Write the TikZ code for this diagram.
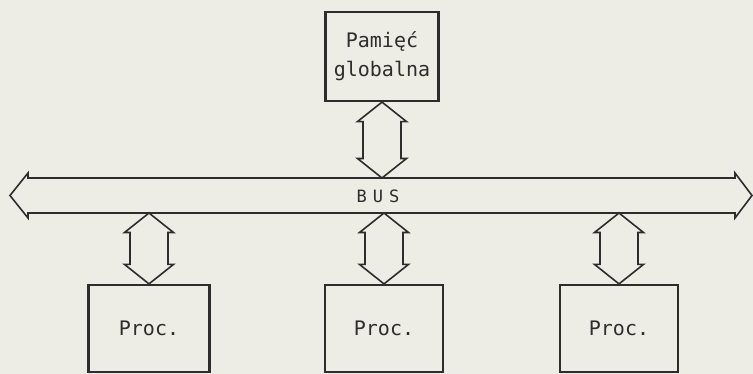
\documentclass[tikz,border=0pt]{standalone}
\usepackage{fontspec}
\setmainfont{DejaVu Sans Mono}
\usetikzlibrary{calc}
\definecolor{paper}{RGB}{237,237,229}
\definecolor{ink}{RGB}{45,45,45}
\tikzset{
  boxnode/.style={draw=ink, line width=2.2pt, minimum width=118pt, inner sep=0pt, font=\fontsize{20}{29}\selectfont, text=ink},
  arrowline/.style={draw=ink, line width=1.6pt, line join=miter},
}
\newcommand\vdarrow[2]{%
  \draw[arrowline] let \p1=(#1), \p2=(#2) in
   (\x1,\y1) -- (\x1+24.5pt,\y1-19.5pt) -- (\x1+19pt,\y1-19.5pt) -- (\x1+19pt,\y2+19.5pt)
   -- (\x1+24.5pt,\y2+19.5pt) -- (\x1,\y2) -- (\x1-24.5pt,\y2+19.5pt) -- (\x1-19pt,\y2+19.5pt)
   -- (\x1-19pt,\y1-19.5pt) -- (\x1-24.5pt,\y1-19.5pt) -- cycle;}
\begin{document}
\begin{tikzpicture}[x=1pt,y=1pt]
  \fill[paper] (0,0) rectangle (753,374);
  \useasboundingbox (0,0) rectangle (753,374);
  % bus
  \coordinate (bl) at (10,178.5);
  \coordinate (br) at (752,178.5);
  \coordinate (busT) at (380,196);
  \coordinate (busB) at (380,161);
  \draw[arrowline] let \p1=(bl), \p2=(br) in
    (\x1,\y1) -- (\x1+18pt,\y1+22.5pt) -- (\x1+18pt,\y1+17.5pt) -- (\x2-17pt,\y1+17.5pt)
    -- (\x2-17pt,\y1+22.5pt) -- (\x2,\y2) -- (\x2-17pt,\y1-22.5pt) -- (\x2-17pt,\y1-17.5pt)
    -- (\x1+18pt,\y1-17.5pt) -- (\x1+18pt,\y1-22.5pt) -- cycle;
  \node[font=\fontsize{17}{17}\selectfont, text=ink] (bus) at (378,177.5) {B\hspace{6pt}U\hspace{6pt}S};
  % boxes
  \node[boxnode, minimum width=113pt, minimum height=89pt, align=center] (mem) at (382,317.5) {Pamięć\\globalna};
  \node[boxnode, minimum width=121pt, minimum height=87pt] (p1) at (149,45.5) {Proc.};
  \node[boxnode, minimum height=87pt] (p2) at (384,45.5) {Proc.};
  \node[boxnode, minimum height=87pt] (p3) at (619,45.5) {Proc.};
  % vertical connectors
  \vdarrow{mem.south}{mem.south |- busT}
  \vdarrow{p1.north |- busB}{p1.north}
  \vdarrow{p2.north |- busB}{p2.north}
  \vdarrow{p3.north |- busB}{p3.north}
\end{tikzpicture}
\end{document}
